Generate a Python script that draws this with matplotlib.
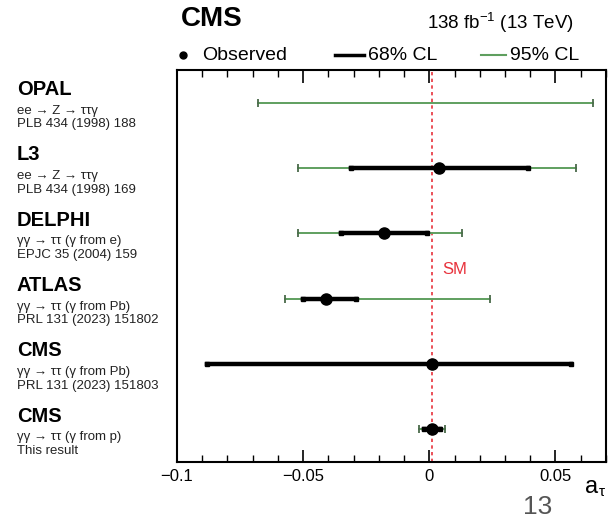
import matplotlib
matplotlib.use("Agg")
import matplotlib.pyplot as plt
from matplotlib.lines import Line2D
from matplotlib.transforms import blended_transform_factory
from matplotlib.ticker import MultipleLocator

plt.rcParams['font.family'] = ['Liberation Sans', 'DejaVu Sans']
plt.rcParams['mathtext.fontset'] = 'custom'
plt.rcParams['mathtext.rm'] = 'Liberation Sans'
plt.rcParams['mathtext.it'] = 'Liberation Sans'

# experiments, top to bottom
names = ['OPAL', 'L3', 'DELPHI', 'ATLAS', 'CMS', 'CMS']
processes = ['ee → Z → ττγ', 'ee → Z → ττγ', 'γγ → ττ (γ from e)',
             'γγ → ττ (γ from Pb)', 'γγ → ττ (γ from Pb)', 'γγ → ττ (γ from p)']
refs = ['PLB 434 (1998) 188', 'PLB 434 (1998) 169', 'EPJC 35 (2004) 159',
        'PRL 131 (2023) 151802', 'PRL 131 (2023) 151803', 'This result']

# best fit (None = not shown)
observed = [None, 0.004, -0.018, -0.041, 0.001, 0.0009]
cl68_lo = [None, -0.031, -0.035, -0.050, -0.088, -0.0022]
cl68_hi = [None, 0.039, -0.001, -0.029, 0.056, 0.0041]
cl95_lo = [-0.068, -0.052, -0.052, -0.057, None, -0.0042]
cl95_hi = [0.065, 0.058, 0.013, 0.024, None, 0.0062]

a_sm = 0.00118

green = '#5f9f5f'

fig = plt.figure(figsize=(6.16, 5.24), dpi=100)
ax = fig.add_axes([0.2873, 0.1183, 0.6964, 0.7481])

n = len(names)
ys = [n - 0.5 - i for i in range(n)]

for y, obs, lo68, hi68, lo95, hi95 in zip(ys, observed, cl68_lo, cl68_hi, cl95_lo, cl95_hi):
    if lo95 is not None:
        ax.plot([lo95, hi95], [y, y], color=green, lw=1.4, zorder=2)
        ax.plot([lo95, hi95], [y, y], ls='none', marker='|', ms=6, mew=1.3, color='#4a6a4a', zorder=2)
    if lo68 is not None:
        ax.plot([lo68, hi68], [y, y], color='black', lw=3.2, zorder=3)
        ax.plot([lo68, hi68], [y, y], ls='none', marker='s', ms=3.5, color='black', zorder=3)
    if obs is not None:
        ax.plot(obs, y, 'o', color='black', ms=8, zorder=4)

ax.axvline(a_sm, color='#e8323c', ls=(0, (2, 2)), lw=1.2, zorder=1)
ax.text(a_sm + 0.004, 2.95, 'SM', color='#e8323c', fontsize=12, va='center')

ax.set_xlim(-0.1, 0.07)
ax.set_ylim(0, n)
ax.set_yticks([])
ax.xaxis.set_major_locator(MultipleLocator(0.05))
ax.xaxis.set_minor_locator(MultipleLocator(0.01))
ax.tick_params(axis='x', which='both', direction='in', top=True, labelsize=12, pad=5)
ax.tick_params(axis='x', which='major', length=9, width=1.2)
ax.tick_params(axis='x', which='minor', length=5, width=1.0)
ax.set_xticks([-0.1, -0.05, 0, 0.05])
ax.set_xticklabels(['−0.1', '−0.05', '0', '0.05'])
for s in ax.spines.values():
    s.set_linewidth(1.5)

# labels on the left
tr = blended_transform_factory(fig.transFigure, ax.transData)
for y, nm, pr, rf in zip(ys, names, processes, refs):
    ax.text(0.027, y + 0.2, nm, transform=tr, fontsize=14.5, fontweight='bold', va='center', ha='left')
    ax.text(0.027, y - 0.12, pr, transform=tr, fontsize=9.5, va='center', ha='left', color='#222222')
    ax.text(0.027, y - 0.33, rf, transform=tr, fontsize=9.5, va='center', ha='left', color='#222222')

fig.text(0.293, 0.964, 'CMS', fontsize=20, fontweight='bold', va='center', ha='left')
fig.text(0.932, 0.957, '138 fb$^{-1}$ (13 TeV)', fontsize=13.5, va='center', ha='right')

# legend row above the frame
ly = 1 - 55 / 524
fig.add_artist(Line2D([183 / 616], [ly], transform=fig.transFigure, ls='none',
                      marker='o', ms=5, color='black'))
fig.text(202 / 616, ly, 'Observed', fontsize=14, va='center', ha='left')
fig.add_artist(Line2D([335 / 616, 364 / 616], [ly, ly], transform=fig.transFigure,
                      color='black', lw=2.5))
fig.text(368 / 616, ly, '68% CL', fontsize=14, va='center', ha='left')
fig.add_artist(Line2D([481 / 616, 506 / 616], [ly, ly], transform=fig.transFigure,
                      color=green, lw=1.5))
fig.text(510 / 616, ly, '95% CL', fontsize=14, va='center', ha='left')

# x-axis title a_tau, written as two plain texts
fig.text(598 / 616, 1 - 493 / 524, 'a', fontsize=17, va='baseline', ha='right')
fig.text(599 / 616, 1 - 496 / 524, 'τ', fontsize=11, va='baseline', ha='left')
fig.text(0.872, 0.032, '13', fontsize=19, color='#555555', va='center', ha='center')

fig.savefig('out.png', dpi=100)
